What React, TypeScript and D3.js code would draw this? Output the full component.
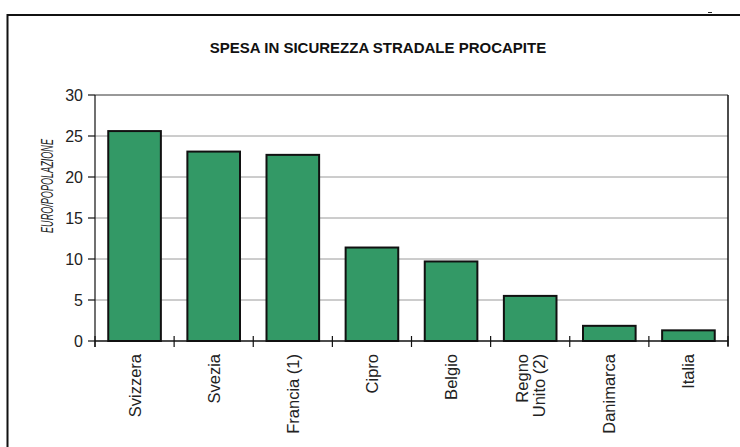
import React from "react";
import * as d3 from "d3";

const title = "SPESA IN SICUREZZA STRADALE PROCAPITE";
const yAxisLabel = "EURO/POPOLAZIONE";
const categories = ["Svizzera", "Svezia", "Francia (1)", "Cipro", "Belgio", "Regno|Unito (2)", "Danimarca", "Italia"];
const values = [25.6, 23.1, 22.7, 11.4, 9.7, 5.5, 1.85, 1.3];
const yTicks = [0, 5, 10, 15, 20, 25, 30];

const W = 740;
const H = 447;
const left = 95;
const right = 728;
const top = 95;
const bottom = 341;
const FONT = "Arial, 'Liberation Sans', Helvetica, sans-serif";

export default function App() {
  const x = d3.scaleBand<string>().domain(categories).range([left, right]).paddingInner(0.335).paddingOuter(0.1675);
  const y = d3.scaleLinear().domain([0, 30]).range([bottom, top]);
  const step = x.step();
  const boundaries = d3.range(categories.length + 1).map((i) => left + i * step);

  return (
    <svg width={W} height={H} style={{ position: "absolute", left: 0, top: 0, background: "#fff" }}>
      {/* outer frame */}
      <line x1={7.5} y1={15} x2={W} y2={15} stroke="#111" strokeWidth={2} />
      <line x1={7.5} y1={14} x2={7.5} y2={H} stroke="#111" strokeWidth={2} />
      <line x1={708} y1={12.5} x2={712} y2={12.5} stroke="#222" strokeWidth={1} />

      <text x={378} y={53} textAnchor="middle" fontFamily={FONT} fontSize={15} fontWeight="bold" fill="#111">
        {title}
      </text>

      {/* gridlines */}
      {yTicks.filter((t) => t > 0 && t < 30).map((t) => (
        <line key={t} x1={left} x2={right} y1={y(t)} y2={y(t)} stroke="#9a9a9a" strokeWidth={1} />
      ))}
      {/* plot border top/right */}
      <line x1={left} x2={right} y1={y(30)} y2={y(30)} stroke="#333" strokeWidth={1} />
      <line x1={right} x2={right} y1={y(30)} y2={bottom + 5} stroke="#111" strokeWidth={1.5} />

      {/* bars */}
      {values.map((v, i) => (
        <rect
          key={categories[i]}
          x={x(categories[i])!}
          y={y(v)}
          width={x.bandwidth()}
          height={bottom - y(v)}
          fill="#339966"
          stroke="#111"
          strokeWidth={2}
        />
      ))}

      {/* y axis */}
      <line x1={left} x2={left} y1={top} y2={bottom + 6} stroke="#111" strokeWidth={1.2} />
      {yTicks.map((t) => (
        <g key={t}>
          <line x1={left - 7} x2={left} y1={y(t)} y2={y(t)} stroke="#111" strokeWidth={1.2} />
          <text x={83} y={y(t) + 5.8} textAnchor="end" fontFamily={FONT} fontSize={16} fill="#222">
            {t}
          </text>
        </g>
      ))}

      {/* x axis */}
      <line x1={left} x2={right} y1={bottom} y2={bottom} stroke="#111" strokeWidth={1.5} />
      {boundaries.map((b, i) => (
        <line key={i} x1={b} x2={b} y1={bottom - 5} y2={bottom + 6} stroke="#111" strokeWidth={1.2} />
      ))}
      {categories.map((c) => {
        const lines = c.split("|");
        const cx = x(c)! + x.bandwidth() / 2;
        const lh = 17;
        return (
          <text
            key={c}
            transform={`translate(${cx},354) rotate(-90)`}
            textAnchor="end"
            fontFamily={FONT}
            fontSize={16.5}
            fill="#222"
          >
            {lines.map((l, j) => (
              <tspan key={j} x={0} y={6 + (j - (lines.length - 1) / 2) * lh}>
                {l}
              </tspan>
            ))}
          </text>
        );
      })}

      {/* y label */}
      <text
        transform={`translate(52.5,186) rotate(-90)`}
        textAnchor="middle"
        fontFamily={FONT}
        fontSize={16.5}
        fontStyle="italic"
        fill="#222"
        textLength={94}
        lengthAdjust="spacingAndGlyphs"
      >
        {yAxisLabel}
      </text>
    </svg>
  );
}
